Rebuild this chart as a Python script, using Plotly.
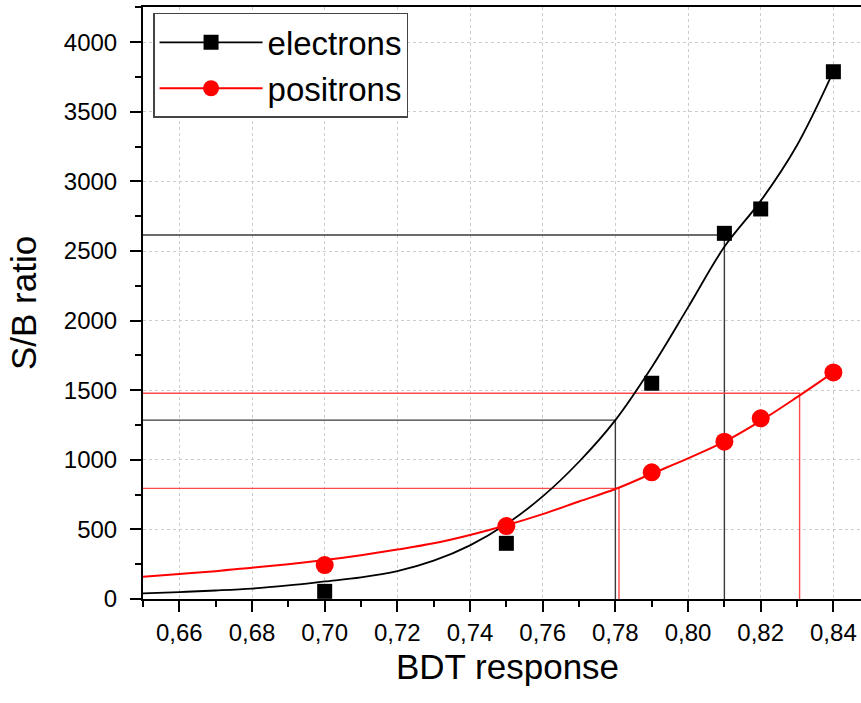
import plotly.graph_objects as go

# Measured S/B ratio at each BDT cut
bdt_cut = [0.70, 0.75, 0.79, 0.81, 0.82, 0.84]
sb_electrons = [55, 400, 1550, 2627, 2802, 3788]
sb_positrons = [244, 524, 910, 1130, 1298, 1628]

# Smooth fitted trends
fit_x = [0.65, 0.66, 0.67, 0.68, 0.69, 0.70, 0.71, 0.72, 0.73, 0.74,
         0.75, 0.76, 0.77, 0.78, 0.79, 0.80, 0.81, 0.82, 0.83, 0.84]
fit_electrons = [40, 50, 61, 75, 98, 126, 155, 200, 275, 385,
                 538, 737, 986, 1285, 1665, 2095, 2530, 2860, 3260, 3790]
fit_positrons = [160, 180, 200, 225, 250, 280, 315, 355, 400, 460,
                 530, 610, 700, 790, 900, 1010, 1130, 1280, 1450, 1628]

# Working points (BDT cut, S/B)
wp_electrons = [(0.780, 1285), (0.810, 2615)]
wp_positrons = [(0.781, 795), (0.8307, 1478)]

# Axis settings
x_min, x_max = 0.65, 0.8476
y_min, y_max = 0, 4253
x_ticks = [0.66, 0.68, 0.70, 0.72, 0.74, 0.76, 0.78, 0.80, 0.82, 0.84]
x_tick_text = [f"{v:.2f}".replace(".", ",") for v in x_ticks]
y_ticks = [0, 500, 1000, 1500, 2000, 2500, 3000, 3500, 4000]

BLACK = "#000000"
RED = "#ff0000"
FONT = "Liberation Sans, Arial, sans-serif"

fig = go.Figure()

# Working-point guide lines: horizontal from the axis, then down to zero
for (wx, wy), col in [(p, "#3a3a3a") for p in wp_electrons] + [(p, "#ff4a4a") for p in wp_positrons]:
    fig.add_trace(go.Scatter(
        x=[x_min, wx, wx], y=[wy, wy, 0], mode="lines",
        line=dict(color=col, width=1.4), showlegend=False, hoverinfo="skip"))

# Fitted curves
fig.add_trace(go.Scatter(x=fit_x, y=fit_electrons, mode="lines",
                         line=dict(color=BLACK, width=1.8, shape="spline"),
                         showlegend=False))
fig.add_trace(go.Scatter(x=fit_x, y=fit_positrons, mode="lines",
                         line=dict(color=RED, width=2, shape="spline"),
                         showlegend=False))

# Measured points
fig.add_trace(go.Scatter(x=bdt_cut, y=sb_electrons, mode="markers",
                         marker=dict(symbol="square", size=15, color=BLACK),
                         showlegend=False, cliponaxis=False))
fig.add_trace(go.Scatter(x=bdt_cut, y=sb_positrons, mode="markers",
                         marker=dict(symbol="circle", size=18, color=RED),
                         showlegend=False, cliponaxis=False))

# Legend entries (line + symbol)
fig.add_trace(go.Scatter(x=[None], y=[None], mode="lines+markers", name="electrons",
                         line=dict(color=BLACK, width=1.8),
                         marker=dict(symbol="square", size=15, color=BLACK)))
fig.add_trace(go.Scatter(x=[None], y=[None], mode="lines+markers", name="positrons",
                         line=dict(color=RED, width=2),
                         marker=dict(symbol="circle", size=18, color=RED)))

axis_common = dict(
    showline=True, linecolor=BLACK, linewidth=2,
    showgrid=True, gridcolor="#cccccc", gridwidth=1, griddash="dot",
    zeroline=False, ticks="outside", ticklen=11, tickwidth=2, tickcolor=BLACK,
    tickfont=dict(family=FONT, size=24, color=BLACK),
)

fig.update_xaxes(
    **axis_common, range=[x_min, x_max], tickvals=x_ticks, ticktext=x_tick_text,
    mirror=True,
    minor=dict(dtick=0.01, tick0=0.65, ticks="outside", ticklen=6, tickwidth=2,
               tickcolor=BLACK, showgrid=False),
)
fig.update_yaxes(
    **axis_common, range=[y_min, y_max], tickvals=y_ticks,
    ticklabelstandoff=8,
    minor=dict(dtick=250, tick0=0, ticks="outside", ticklen=6, tickwidth=2,
               tickcolor=BLACK, showgrid=False),
    title=dict(text="S/B ratio", font=dict(family=FONT, size=35, color=BLACK),
               standoff=17),
)

# x-axis title set just under the tick labels
fig.add_annotation(
    text="BDT response", xref="paper", yref="paper", x=0.507, y=-0.0777,
    xanchor="center", yanchor="top", showarrow=False,
    font=dict(family=FONT, size=35, color=BLACK),
)

fig.update_layout(
    width=861, height=703,
    margin=dict(l=143, r=0, t=7, b=104),
    paper_bgcolor="white", plot_bgcolor="white",
    font=dict(family=FONT, color=BLACK),
    legend=dict(
        x=0.014, y=0.99, xanchor="left", yanchor="top",
        bgcolor="white", bordercolor="#444444", borderwidth=1.5,
        font=dict(family=FONT, size=33, color=BLACK),
        itemwidth=103, tracegroupgap=0,
    ),
)

fig.write_html("out.html")
